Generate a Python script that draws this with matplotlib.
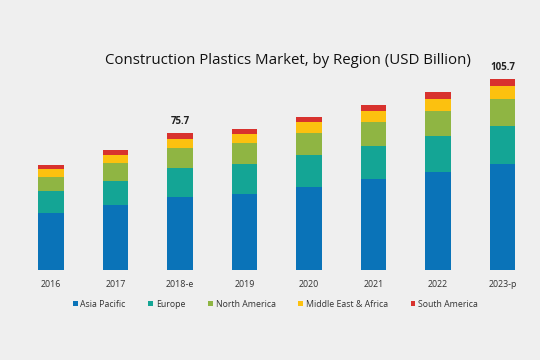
import matplotlib
matplotlib.use('Agg')
import matplotlib.pyplot as plt
import numpy as np

# Construction plastics market by region, USD billion
years = ['2016', '2017', '2018-e', '2019', '2020', '2021', '2022', '2023-p']
asia_pacific = [31.4, 35.8, 40.4, 41.9, 46.1, 50.2, 54.3, 58.5]
europe = [12.3, 13.7, 16.1, 16.9, 17.4, 18.3, 19.8, 21.2]
north_america = [7.9, 9.6, 11.1, 11.3, 12.2, 13.3, 13.8, 14.8]
middle_east_africa = [4.1, 4.8, 5.0, 5.2, 6.1, 6.1, 6.6, 7.4]
south_america = [2.4, 2.6, 3.1, 2.9, 3.1, 3.5, 3.9, 3.8]
labelled = {2: '75.7', 7: '105.7'}

series = [
    ('Asia Pacific', asia_pacific, '#0a73b8'),
    ('Europe', europe, '#14a595'),
    ('North America', north_america, '#8fb543'),
    ('Middle East & Africa', middle_east_africa, '#fcc10f'),
    ('South America', south_america, '#d8322e'),
]

bg = '#efefef'
plt.rcParams['font.family'] = ['Open Sans', 'DejaVu Sans']

fig = plt.figure(figsize=(5.4, 3.6), dpi=100, facecolor=bg)
ax = fig.add_axes([0.0347, 0.25, 0.9556, 0.602])
ax.set_facecolor(bg)

x = np.arange(len(years))
bottom = np.zeros(len(years))
handles = []
for name, vals, col in series:
    b = ax.bar(x, vals, width=0.4, bottom=bottom, color=col, label=name)
    handles.append(b)
    bottom += np.array(vals)

for i, txt in labelled.items():
    ax.text(x[i], bottom[i] + 3.3, txt, ha='center', va='bottom',
            fontsize=7, fontweight='bold', color='#222222')

ax.set_xlim(-0.5, len(years) - 0.5)
ax.set_ylim(0, 120)
ax.set_xticks(x)
ax.set_xticklabels(years, fontsize=6.4, color='#333333')
ax.tick_params(axis='x', length=0, pad=7)
ax.set_yticks([])
for s in ax.spines.values():
    s.set_visible(False)

fig.text(0.534, 0.833, 'Construction Plastics Market, by Region (USD Billion)',
         ha='center', va='center', fontsize=10.8, color='#111111')

fig.legend(handles=handles, loc='center', bbox_to_anchor=(0.51, 0.155),
           ncol=5, frameon=False, fontsize=6.3, handlelength=0.55,
           handleheight=0.55, handletextpad=0.3, columnspacing=2.6,
           labelcolor='#333333')

fig.savefig('out.png', dpi=100, facecolor=bg)
